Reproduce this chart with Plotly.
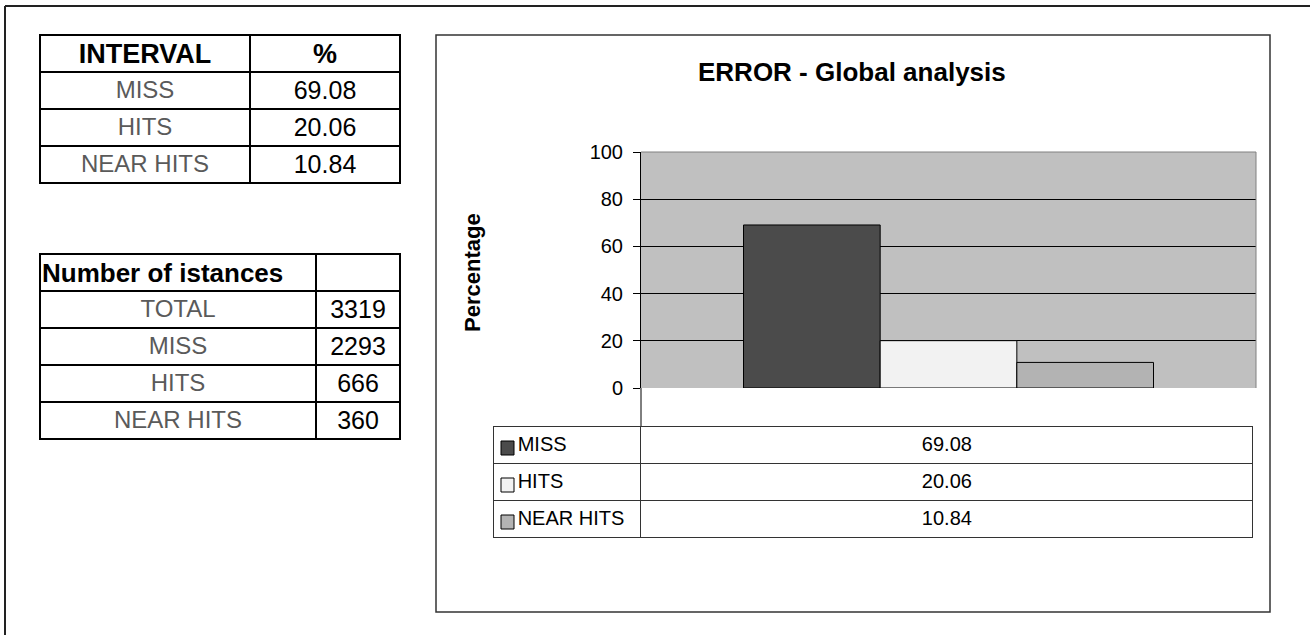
import plotly.graph_objects as go

# ---------------- data ----------------
categories = ["MISS", "HITS", "NEAR HITS"]
percentages = [69.08, 20.06, 10.84]
instance_labels = ["TOTAL", "MISS", "HITS", "NEAR HITS"]
instance_counts = [3319, 2293, 666, 360]
bar_colors = ["#4b4b4b", "#f2f2f2", "#b3b3b3"]
table1_header = ["INTERVAL", "%"]
table2_header = ["Number of istances", ""]

W, H = 1310, 635
FONT = "Liberation Sans, Arial, sans-serif"
GRAY = "#5a5a5a"
HDR = 16  # height of the (invisible) plotly table header band
ROW = 37
CLEAR = "rgba(0,0,0,0)"


def px(x):
    return x / W


def py(y):
    return 1 - y / H


def hidden_header(n):
    return dict(values=[""] * n, height=HDR, fill=dict(color=CLEAR),
                line=dict(color=CLEAR, width=0), font=dict(size=1))


def add_table(x0, x1, top, widths, cols, sizes, colors, align="center",
              line_color="black", line_width=2, nrows=1, fill="white"):
    fig.add_trace(go.Table(
        domain=dict(x=[px(x0), px(x1)], y=[py(top + nrows * ROW + 8), py(top - HDR)]),
        columnwidth=widths,
        header=hidden_header(len(cols)),
        cells=dict(values=cols, height=ROW, align=align,
                   fill=dict(color=fill),
                   line=dict(color=line_color, width=line_width),
                   font=dict(family=FONT, size=sizes, color=colors)),
    ))


fig = go.Figure()

# ---------------- bar chart ----------------
for name, val, col in zip(categories, percentages, bar_colors):
    fig.add_trace(go.Bar(
        x=["ERROR"], y=[val], name=name,
        marker=dict(color=col, line=dict(color="#000000", width=1)),
        showlegend=False, hoverinfo="skip",
    ))

# ---------------- table 1 ----------------
add_table(40, 400, 35, [210, 150],
          [[""] + categories, [""] + [f"{v:.2f}" for v in percentages]],
          [24, 25], [GRAY, "black"], nrows=4)
add_table(40, 400, 31, [210, 150], [[f"<b>{h}</b>"] for h in table1_header],
          27, "black", line_color=CLEAR, line_width=0, fill=CLEAR)

# ---------------- table 2 ----------------
add_table(40, 400, 254, [276, 84],
          [[""] + instance_labels, [""] + [str(v) for v in instance_counts]],
          [24, 25], [GRAY, "black"], nrows=5)
add_table(34, 394, 250, [276, 84], [[f"<b>{h}</b>"] if h else [""] for h in table2_header],
          26, "black", align=["left", "center"], line_color=CLEAR, line_width=0, fill=CLEAR)

# ---------------- chart data table (legend) ----------------
legend_labels = ["\u00a0\u00a0\u00a0" + c for c in categories]
legend_values = [f"{v:.2f}" for v in percentages]
add_table(493, 1254, 426, [148, 613], [[""] * 3, [""] * 3], 20, "black",
          line_color="#333333", line_width=1, nrows=3)
add_table(493, 1254, 428, [148, 613], [legend_labels, legend_values], 20, "black",
          align=["left", "center"], line_color=CLEAR, line_width=0, nrows=3, fill=CLEAR)

shapes = []
# legend colour squares
for i, col in enumerate(bar_colors):
    top = 426 + ROW * i
    shapes.append(dict(type="rect", xref="paper", yref="paper",
                       x0=px(501), x1=px(514), y0=py(top + 29), y1=py(top + 15),
                       fillcolor=col, line=dict(color="#000000", width=1)))

# axis line extension down to the data table
shapes.append(dict(type="line", xref="paper", yref="paper",
                   x0=px(641), x1=px(641), y0=py(388), y1=py(426),
                   line=dict(color="#000000", width=1)))
# plot area border top/right (gray)
shapes.append(dict(type="line", xref="paper", yref="paper",
                   x0=px(641), x1=px(1256), y0=py(152), y1=py(152),
                   line=dict(color="#808080", width=1)))
shapes.append(dict(type="line", xref="paper", yref="paper",
                   x0=px(1256), x1=px(1256), y0=py(152), y1=py(388),
                   line=dict(color="#808080", width=1)))
# chart frame
shapes.append(dict(type="rect", xref="paper", yref="paper",
                   x0=px(436), x1=px(1270), y0=py(612), y1=py(35),
                   line=dict(color="#333333", width=1.5), layer="below"))
# outer frame (top + left)
shapes.append(dict(type="line", xref="paper", yref="paper",
                   x0=px(5), x1=1, y0=py(6), y1=py(6),
                   line=dict(color="#222222", width=2)))
shapes.append(dict(type="line", xref="paper", yref="paper",
                   x0=px(5), x1=px(5), y0=py(6), y1=0,
                   line=dict(color="#222222", width=2)))

annotations = [
    dict(text="<b>ERROR - Global analysis</b>", xref="paper", yref="paper",
         x=px(852), y=py(72), showarrow=False, xanchor="center", yanchor="middle",
         font=dict(family=FONT, size=26, color="black")),
    dict(text="<b>Percentage</b>", xref="paper", yref="paper",
         x=px(472), y=py(273), showarrow=False, textangle=-90,
         xanchor="center", yanchor="middle",
         font=dict(family=FONT, size=22, color="black")),
]

fig.update_layout(
    width=W, height=H, autosize=False,
    margin=dict(l=0, r=0, t=0, b=0, pad=0, autoexpand=False),
    paper_bgcolor="white", plot_bgcolor="#c0c0c0",
    barmode="group", bargap=1 / 3, bargroupgap=0,
    shapes=shapes, annotations=annotations,
    xaxis=dict(domain=[px(641), px(1256)], range=[-0.5, 0.5],
               showticklabels=False, showgrid=False, zeroline=False,
               showline=False, fixedrange=True, automargin=False),
    yaxis=dict(domain=[py(388), py(152)], range=[0, 100], dtick=20,
               ticks="outside", ticklen=7, tickcolor="black",
               showline=True, linecolor="black", linewidth=1,
               showgrid=True, gridcolor="black", gridwidth=1,
               zeroline=False, ticklabelstandoff=6, automargin=False,
               tickfont=dict(family=FONT, size=20, color="black"),
               fixedrange=True),
)

fig.write_html(
    "out.html",
    config={"displayModeBar": False, "responsive": False},
    post_script="document.body.style.margin='0';document.body.style.padding='0';"
                "document.body.style.overflow='hidden';",
)
